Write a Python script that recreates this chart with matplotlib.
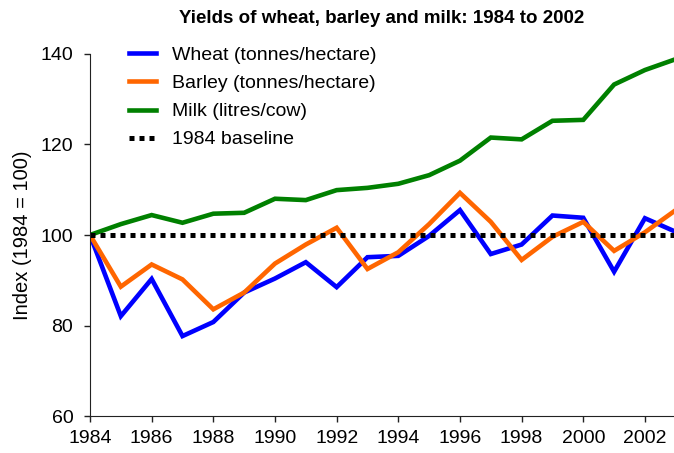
import matplotlib.pyplot as plt
import numpy as np

plt.rcParams['font.family'] = ['Liberation Sans', 'DejaVu Sans']

years = list(range(1984, 2004))
wheat = [100, 82.1, 90.3, 77.7, 80.8, 87.3, 90.4, 94.0, 88.5, 95.1,
         95.4, 99.8, 105.5, 95.8, 97.9, 104.3, 103.8, 91.9, 103.7, 100.7]
barley = [100, 88.6, 93.5, 90.2, 83.6, 87.3, 93.7, 97.9, 101.6, 92.5,
          96.2, 102.4, 109.3, 102.9, 94.5, 99.6, 102.9, 96.5, 100.6, 105.5]
milk = [100, 102.4, 104.4, 102.7, 104.7, 104.9, 108.0, 107.7, 109.9, 110.4,
        111.3, 113.2, 116.4, 121.5, 121.1, 125.2, 125.4, 133.2, 136.4, 138.8]
baseline = [100] * len(years)

fig = plt.figure(figsize=(6.74, 4.53), dpi=100)
ax = fig.add_axes([90 / 674, 1 - 416.3 / 453, 584 / 674, (416.3 - 53.7) / 453])

ax.plot(years, wheat, color='#0000FF', lw=3.3, label='Wheat (tonnes/hectare)', solid_joinstyle='miter')
ax.plot(years, barley, color='#FF6600', lw=3.3, label='Barley (tonnes/hectare)', solid_joinstyle='miter')
ax.plot(years, milk, color='#008000', lw=3.3, label='Milk (litres/cow)', solid_joinstyle='miter')
ax.plot(years, baseline, color='black', lw=3.6, linestyle=(0, (1, 1)), label='1984 baseline')

ax.set_xlim(1984, 1984 + 584 / 30.83)
ax.set_ylim(60, 140)
ax.set_xticks(range(1984, 2003, 2))
ax.set_yticks(range(60, 141, 20))
ax.tick_params(labelsize=14, length=4, width=1, colors='#222222', labelcolor='black')
ax.tick_params(axis='y', pad=8)
ax.tick_params(axis='x', pad=6)
ax.spines['top'].set_visible(False)
ax.spines['right'].set_visible(False)
for s in ['left', 'bottom']:
    ax.spines[s].set_color('#222222')
ax.set_ylabel('Index (1984 = 100)', fontsize=14.5, labelpad=6)

ax.set_title('Yields of wheat, barley and milk: 1984 to 2002', fontsize=13.5,
             fontweight='bold', pad=22)

ax.legend(loc='upper left', bbox_to_anchor=(0.037, 1.068), frameon=False, fontsize=14,
          handlelength=1.4, handletextpad=0.8, labelspacing=0.54)

fig.savefig('out.png', dpi=100)
